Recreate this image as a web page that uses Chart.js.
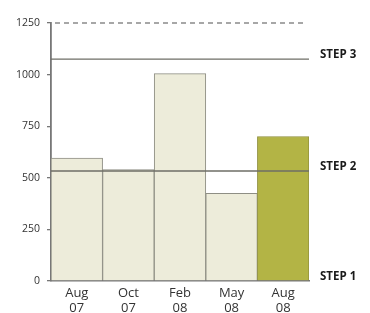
<!DOCTYPE html>
<html>
<head>
<meta charset="utf-8">
<script src="https://cdn.jsdelivr.net/npm/chart.js@4"></script>
<style>
  html, body { margin: 0; padding: 0; background: #fff; }
  #wrap { width: 370px; height: 313px; overflow: hidden; }
</style>
</head>
<body>
<div id="wrap"><canvas id="c" width="370" height="313"></canvas></div>
<script>
const months = [["Aug", "07"], ["Oct", "07"], ["Feb", "08"], ["May", "08"], ["Aug", "08"]];
const values = [595, 540, 1005, 425, 700];
const steps = [
  { label: "STEP 1", value: 0 },
  { label: "STEP 2", value: 533 },
  { label: "STEP 3", value: 1075 }
];
const yMax = 1250;
const yStep = 250;

const fills = values.map((v, i) => i === values.length - 1 ? "#b3b445" : "#edecda");
const borders = values.map((v, i) => i === values.length - 1 ? "#8f8f3c" : "#8e8e84");

// lignes de seuil + étiquettes STEP
const stepLines = {
  id: "stepLines",
  afterDatasetsDraw(chart) {
    const { ctx, chartArea: a, scales: { y } } = chart;
    ctx.save();
    // pointillés en haut
    const yt = y.getPixelForValue(yMax);
    ctx.strokeStyle = "#8a8a8a";
    ctx.lineWidth = 1.3;
    ctx.setLineDash([5, 4]);
    ctx.beginPath();
    ctx.moveTo(a.left + 4, yt);
    ctx.lineTo(a.right - 3, yt);
    ctx.stroke();
    ctx.setLineDash([]);

    ctx.font = "bold 11.5px 'Open Sans', sans-serif";
    ctx.fillStyle = "#1a1a1a";
    ctx.textBaseline = "middle";
    for (const s of steps) {
      const py = y.getPixelForValue(s.value);
      if (s.value > 0) {
        ctx.strokeStyle = "#6e6e66";
        ctx.lineWidth = 1.4;
        ctx.beginPath();
        ctx.moveTo(a.left, py);
        ctx.lineTo(a.right, py);
        ctx.stroke();
      }
      ctx.fillText(s.label, a.right + 11, py - 4);
    }
    ctx.restore();
  }
};

new Chart(document.getElementById("c"), {
  type: "bar",
  data: {
    labels: months,
    datasets: [{
      data: values,
      backgroundColor: fills,
      borderColor: borders,
      borderWidth: 1,
      categoryPercentage: 1,
      barPercentage: 1
    }]
  },
  options: {
    responsive: false,
    animation: false,
    layout: { padding: { top: 23, right: 61, left: 0, bottom: 0 } },
    plugins: { legend: { display: false }, tooltip: { enabled: false } },
    scales: {
      x: {
        grid: { display: false },
        border: { display: true, color: "#777", width: 1.5 },
        ticks: {
          color: "#333",
          font: { family: "'Open Sans', sans-serif", size: 13, lineHeight: 1.15 },
          padding: -3
        },
        afterFit(scale) { scale.height = 32; }
      },
      y: {
        min: 0,
        max: yMax,
        grid: { drawOnChartArea: false, tickLength: 4, color: "#777", lineWidth: 1.3 },
        border: { display: true, color: "#777", width: 1.8 },
        ticks: {
          stepSize: yStep,
          color: "#333",
          font: { family: "'Open Sans', sans-serif", size: 10.5 },
          padding: 7,
          callback: v => String(v)
        },
        afterFit(scale) { scale.width = 51; }
      }
    }
  },
  plugins: [stepLines]
});
</script>
</body>
</html>
